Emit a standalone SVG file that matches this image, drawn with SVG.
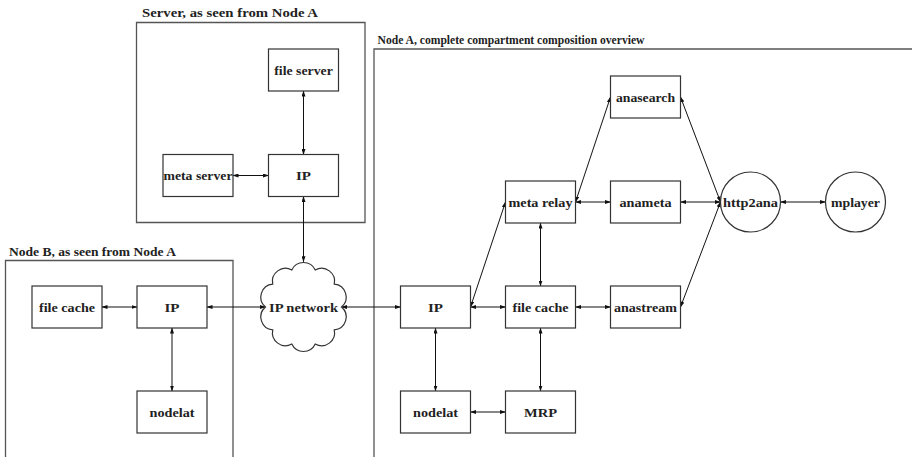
<svg xmlns="http://www.w3.org/2000/svg" width="912" height="457" viewBox="0 0 912 457">
<defs>
<style>
.comp{fill:none;stroke:#555;stroke-width:1.3}
.node rect,.node circle,.node path{fill:#fff;stroke:#333;stroke-width:1.2}
.lbl{font-family:"Liberation Serif","Times New Roman",serif;font-weight:bold;font-size:13px;fill:#222;text-anchor:middle}
.ttl{font-family:"Liberation Serif","Times New Roman",serif;font-weight:bold;font-size:11.5px;fill:#222}
.edge{fill:none;stroke:#111;stroke-width:1;marker-start:url(#ah);marker-end:url(#ah)}
</style>
<marker id="ah" viewBox="0 0 6 4" refX="5.5" refY="2" markerWidth="6" markerHeight="4" markerUnits="userSpaceOnUse" orient="auto-start-reverse">
<path d="M0,0 L6,2 L0,4 z" fill="#111"/>
</marker>
</defs>

<g id="compartments">
<path class="comp" d="M136.5,22.5 H365 V222.5 H136.5 Z"/>
<text class="ttl" x="142" y="17" textLength="176" lengthAdjust="spacingAndGlyphs">Server, as seen from Node A</text>
<path class="comp" d="M5.5,460 V260.5 H233 V460"/>
<text class="ttl" x="9" y="256" textLength="167" lengthAdjust="spacingAndGlyphs">Node B, as seen from Node A</text>
<path class="comp" d="M374,460 V49 H915"/>
<text class="ttl" x="377.5" y="44" textLength="267" lengthAdjust="spacingAndGlyphs">Node A, complete compartment composition overview</text>
</g>

<g id="connectors">
<line class="edge" x1="303.5" y1="91" x2="303.5" y2="154.5"/>
<line class="edge" x1="233" y1="175.5" x2="268.5" y2="175.5"/>
<line class="edge" x1="303.5" y1="196.5" x2="303.5" y2="261.8"/>
<line class="edge" x1="102" y1="307" x2="137" y2="307"/>
<line class="edge" x1="172" y1="328" x2="172" y2="391"/>
<line class="edge" x1="207" y1="307" x2="265.5" y2="307"/>
<line class="edge" x1="341.5" y1="307" x2="400.5" y2="307"/>
<line class="edge" x1="470.5" y1="307" x2="505.5" y2="307"/>
<line class="edge" x1="470.5" y1="307" x2="505.5" y2="202"/>
<line class="edge" x1="435.5" y1="328" x2="435.5" y2="391"/>
<line class="edge" x1="470.5" y1="412" x2="505.5" y2="412"/>
<line class="edge" x1="540.5" y1="328" x2="540.5" y2="391"/>
<line class="edge" x1="540.5" y1="286" x2="540.5" y2="223"/>
<line class="edge" x1="575.5" y1="307" x2="610.5" y2="307"/>
<line class="edge" x1="575.5" y1="202" x2="610.5" y2="202"/>
<line class="edge" x1="575.5" y1="202" x2="610.5" y2="97"/>
<line class="edge" x1="720.5" y1="202" x2="680.5" y2="97"/>
<line class="edge" x1="720.5" y1="202" x2="680.5" y2="202"/>
<line class="edge" x1="720.5" y1="202" x2="680.5" y2="307"/>
<line class="edge" x1="780.5" y1="202" x2="825.5" y2="202"/>
</g>

<g id="srv-fileserver" class="node"><rect x="268.5" y="49" width="70" height="42"/><text class="lbl" x="303.5" y="74.5" textLength="58.5" lengthAdjust="spacingAndGlyphs">file server</text></g>
<g id="srv-metaserver" class="node"><rect x="163" y="154.5" width="70" height="42"/><text class="lbl" x="198" y="180" textLength="69" lengthAdjust="spacingAndGlyphs">meta server</text></g>
<g id="srv-ip" class="node"><rect x="268.5" y="154.5" width="70" height="42"/><text class="lbl" x="303.5" y="180" textLength="15" lengthAdjust="spacingAndGlyphs">IP</text></g>

<g id="b-filecache" class="node"><rect x="32" y="286" width="70" height="42"/><text class="lbl" x="67" y="311.5" textLength="56" lengthAdjust="spacingAndGlyphs">file cache</text></g>
<g id="b-ip" class="node"><rect x="137" y="286" width="70" height="42"/><text class="lbl" x="172" y="311.5" textLength="15" lengthAdjust="spacingAndGlyphs">IP</text></g>
<g id="b-nodelat" class="node"><rect x="137" y="391" width="70" height="42"/><text class="lbl" x="172" y="416.5" textLength="45" lengthAdjust="spacingAndGlyphs">nodelat</text></g>

<g id="ipnetwork" class="node">
<path d="M341.5,307 A13,13 0 0 1 334.24,329.93 A13,13 0 0 1 315.24,344.09 A13,13 0 0 1 291.76,344.09 A13,13 0 0 1 272.76,329.93 A13,13 0 0 1 265.5,307 A13,13 0 0 1 272.76,284.07 A13,13 0 0 1 291.76,269.91 A13,13 0 0 1 315.24,269.91 A13,13 0 0 1 334.24,284.07 A13,13 0 0 1 341.5,307 Z"/>
<text class="lbl" x="303.5" y="311.5" textLength="69" lengthAdjust="spacingAndGlyphs">IP network</text>
</g>

<g id="a-ip" class="node"><rect x="400.5" y="286" width="70" height="42"/><text class="lbl" x="435.5" y="311.5" textLength="15" lengthAdjust="spacingAndGlyphs">IP</text></g>
<g id="a-filecache" class="node"><rect x="505.5" y="286" width="70" height="42"/><text class="lbl" x="540.5" y="311.5" textLength="56" lengthAdjust="spacingAndGlyphs">file cache</text></g>
<g id="a-anastream" class="node"><rect x="610.5" y="286" width="70" height="42"/><text class="lbl" x="645.5" y="311.5" textLength="63" lengthAdjust="spacingAndGlyphs">anastream</text></g>
<g id="a-metarelay" class="node"><rect x="505.5" y="181" width="70" height="42"/><text class="lbl" x="540.5" y="206.5" textLength="64" lengthAdjust="spacingAndGlyphs">meta relay</text></g>
<g id="a-anameta" class="node"><rect x="610.5" y="181" width="70" height="42"/><text class="lbl" x="645.5" y="206.5" textLength="52" lengthAdjust="spacingAndGlyphs">anameta</text></g>
<g id="a-anasearch" class="node"><rect x="610.5" y="76" width="70" height="42"/><text class="lbl" x="645.5" y="101.5" textLength="59" lengthAdjust="spacingAndGlyphs">anasearch</text></g>
<g id="a-nodelat" class="node"><rect x="400.5" y="391" width="70" height="42"/><text class="lbl" x="435.5" y="416.5" textLength="45" lengthAdjust="spacingAndGlyphs">nodelat</text></g>
<g id="a-mrp" class="node"><rect x="505.5" y="391" width="70" height="42"/><text class="lbl" x="540.5" y="416.5" textLength="33" lengthAdjust="spacingAndGlyphs">MRP</text></g>
<g id="a-http2ana" class="node"><circle cx="750.5" cy="202" r="30"/><text class="lbl" x="750.5" y="206.5" textLength="55" lengthAdjust="spacingAndGlyphs">http2ana</text></g>
<g id="a-mplayer" class="node"><circle cx="855.5" cy="202" r="30"/><text class="lbl" x="855.5" y="206.5" textLength="49" lengthAdjust="spacingAndGlyphs">mplayer</text></g>
</svg>
